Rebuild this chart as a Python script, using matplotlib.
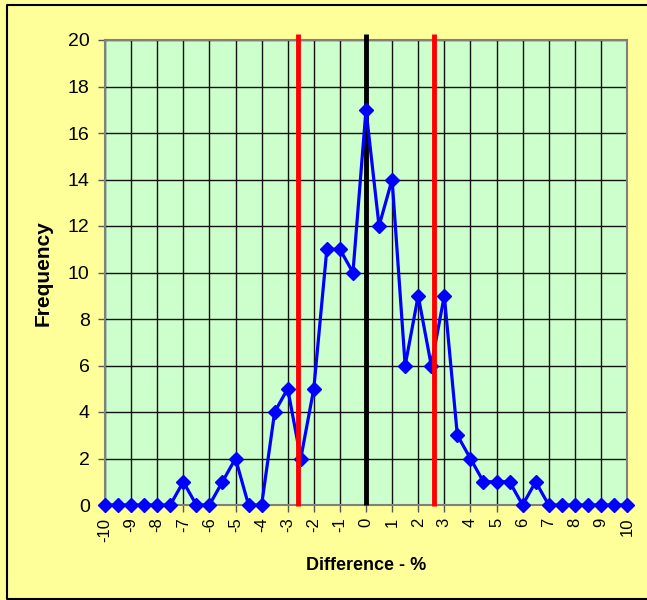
import matplotlib.pyplot as plt
import numpy as np
from matplotlib.lines import Line2D

plt.rcParams['font.family'] = ['Liberation Sans', 'DejaVu Sans']

# Data
difference = np.arange(-10, 10.5, 0.5)
frequency = [0, 0, 0, 0, 0, 0, 1, 0, 0, 1,
             2, 0, 0, 4, 5, 2, 5, 11, 11, 10,
             17, 12, 14, 6, 9, 6, 9, 3, 2, 1,
             1, 1, 0, 1, 0, 0, 0, 0, 0, 0, 0]
limits = [-2.6, 2.6]
x_ticks = list(range(-10, 11))
y_ticks = list(range(0, 21, 2))

fig = plt.figure(figsize=(6.47, 6.0), dpi=100)
fig.patch.set_facecolor('#FFFF99')
# chart border: left, top and bottom only (cut off on the right in the original)
bx0, by0, by1 = 6.5 / 647, 1.5 / 600, 595.5 / 600
fig.lines.append(Line2D([1.0, bx0, bx0, 1.0], [by1, by1, by0, by0],
                        transform=fig.transFigure, color='black', linewidth=1.5))

ax = fig.add_axes([105 / 647, 95 / 600, 522 / 647, 465 / 600])
ax.set_facecolor('#CCFFCC')

ax.plot(difference, frequency, color='#0000FF', linewidth=2.3, marker='D',
        markersize=7, clip_on=False, zorder=4)

ax.plot([0, 0], [0, 20.25], color='black', linewidth=3.5, clip_on=False, zorder=3,
        solid_capstyle='butt')
for lim in limits:
    ax.plot([lim, lim], [-0.05, 20.25], color='#FF0000', linewidth=3.5, clip_on=False,
            zorder=5, solid_capstyle='butt')

ax.set_xlim(-10, 10)
ax.set_ylim(0, 20)
ax.set_xticks(x_ticks)
ax.set_xticklabels([str(t) for t in x_ticks], rotation=90, fontsize=12)
ax.set_yticks(y_ticks)
ax.set_yticklabels([str(t) for t in y_ticks], fontsize=14)
ax.tick_params(axis='both', direction='out', length=5, color='#555555', width=1)
ax.tick_params(axis='x', pad=4)
ax.tick_params(axis='y', pad=6)

ax.grid(True, color='#111111', linewidth=1)
ax.set_axisbelow(True)
for s in ax.spines.values():
    s.set_color('#808080')
    s.set_linewidth(1.5)

fig.text(43 / 647, 1 - 273 / 600, 'Frequency', rotation=90, fontsize=15,
         fontweight='bold', ha='center', va='center')
fig.text(366 / 647, 1 - 565 / 600, 'Difference - %', fontsize=13,
         fontweight='bold', ha='center', va='center')

fig.savefig('out.png', dpi=100, facecolor=fig.get_facecolor())
